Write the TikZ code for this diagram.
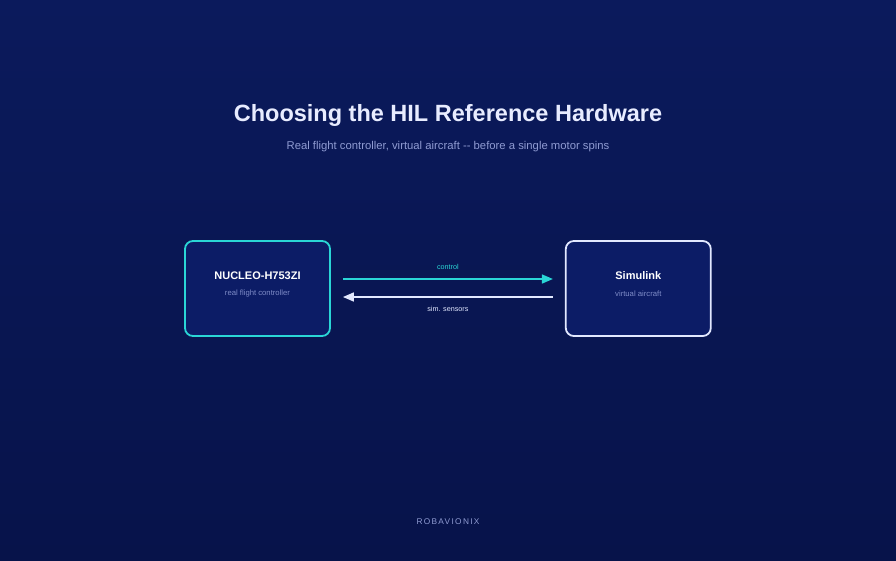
\documentclass[tikz,border=0pt]{standalone}
\usepackage{fontspec}
\setmainfont{Liberation Sans}
\newfontfamily\spaced[LetterSpace=16]{Liberation Sans}
\usetikzlibrary{positioning,arrows.meta}

\definecolor{bgtop}{HTML}{0B1A5C}
\definecolor{bgbot}{HTML}{07134A}
\definecolor{boxfill}{HTML}{0C1C66}
\definecolor{cyanline}{HTML}{2AD6D6}
\definecolor{paleline}{HTML}{E2E8FF}
\definecolor{titletext}{HTML}{E8ECFF}
\definecolor{subtext}{HTML}{8F9BD2}
\definecolor{dimtext}{HTML}{7F8CC8}

\begin{document}
\begin{tikzpicture}[x=1pt,y=-1pt,
    hwbox/.style={draw,rounded corners=8pt,line width=1.8pt,fill=boxfill,
      minimum width=145pt,minimum height=95pt,inner sep=0pt},
    hwname/.style={text=white,font=\bfseries\fontsize{11}{13}\selectfont},
    hwrole/.style={text=dimtext,font=\fontsize{7.7}{9}\selectfont},
    link/.style={line width=1.6pt,-{Triangle[length=11pt,width=9pt]},
      shorten <=12pt,shorten >=12pt},
    lbl/.style={font=\fontsize{7.2}{8}\selectfont}]
    % background
    \shade[shading angle=-30,top color=bgtop,bottom color=bgbot] (0,0) rectangle (896,560);
    \useasboundingbox (0,0) rectangle (896,560);
    % heading
    \node[text=titletext,font=\bfseries\fontsize{23.5}{27}\selectfont] (title) at (448,115)
      {Choosing the HIL Reference Hardware};
    \node[text=subtext,font=\fontsize{11.3}{13}\selectfont] (sub) at (448,147)
      {Real flight controller, virtual aircraft -{}- before a single motor spins};
    % the two ends of the loop
    \node[hwbox,draw=cyanline] (nucleo) at (257.5,288.5) {};
    \node[hwbox,draw=paleline,right=234pt of nucleo] (sim) {};
    \node[hwname] (nucleoname) at ([yshift=12.5pt]nucleo.center) {NUCLEO-H753ZI};
    \node[hwrole] (nucleorole) at ([yshift=-5.5pt]nucleo.center) {real flight controller};
    \node[hwname] (simname) at ([yshift=12.5pt]sim.center) {Simulink};
    \node[hwrole] (simrole) at ([yshift=-5.5pt]sim.center) {virtual aircraft};
    % signals
    \draw[link,cyanline] ([yshift=9.5pt]nucleo.east) -- ([yshift=9.5pt]sim.west)
      node[midway,above=5pt,lbl,text=cyanline] (ctrl) {control};
    \draw[link,paleline] ([yshift=-8.5pt]sim.west) -- ([yshift=-8.5pt]nucleo.east)
      node[midway,below=5pt,lbl,text=paleline] (sens) {sim. sensors};
    % footer
    \node[text=subtext,font=\spaced\fontsize{8.3}{10}\selectfont] (footer) at (448,522) {ROBAVIONIX};
\end{tikzpicture}
\end{document}
